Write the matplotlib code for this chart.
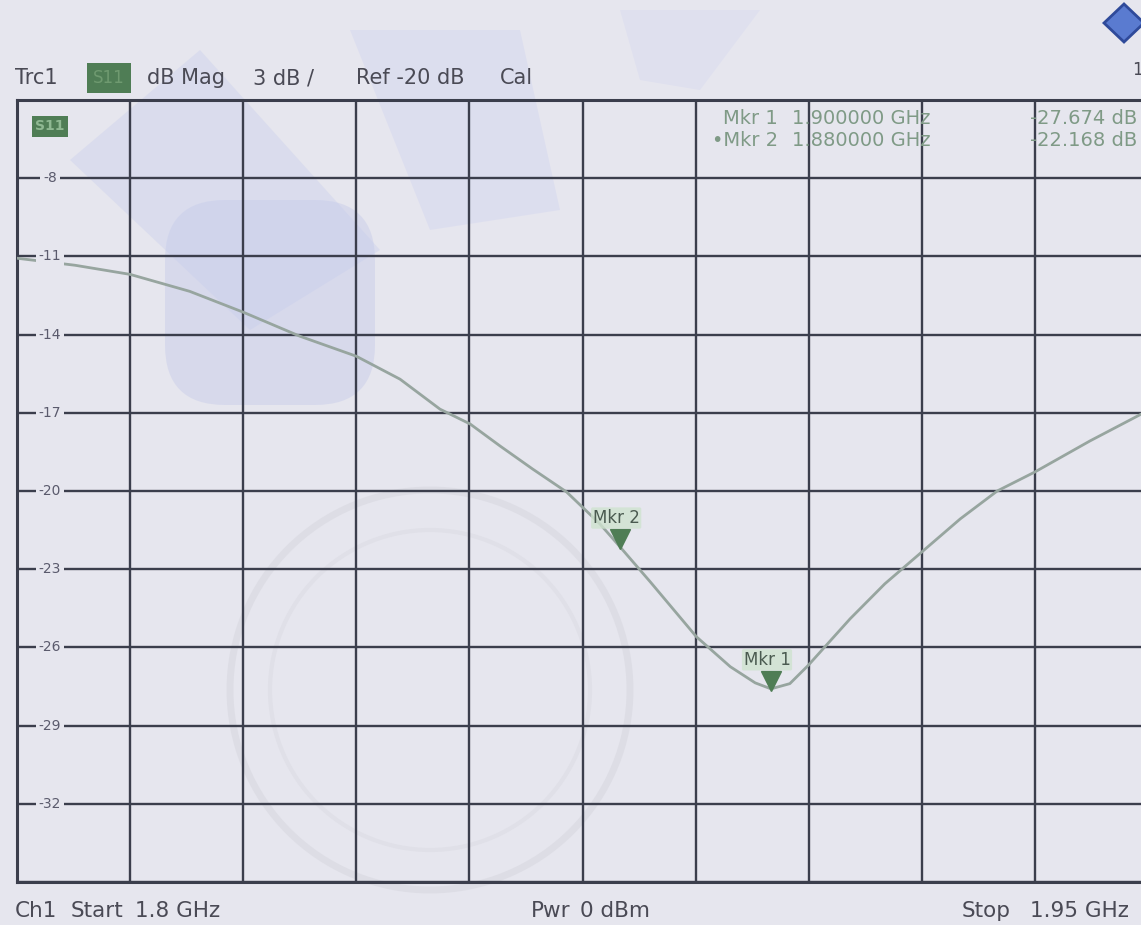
import matplotlib
matplotlib.use("Agg")
import matplotlib.pyplot as plt
import matplotlib.patches as mpatches
import matplotlib.transforms as mtransforms
import numpy as np

# ---------------- data ----------------
freq_ghz = [1.8000, 1.8077, 1.8150, 1.8229, 1.8300, 1.8375, 1.8450, 1.8508,
            1.8561, 1.8601, 1.8641, 1.8684, 1.8729, 1.8773, 1.8800, 1.8840,
            1.8901, 1.8946, 1.8979, 1.9000, 1.9025, 1.9049, 1.9105, 1.9151,
            1.9200, 1.9251, 1.9300, 1.9350, 1.9423, 1.9491, 1.9500]
s11_db = [-11.07, -11.34, -11.69, -12.34, -13.14, -14.06, -14.83, -15.71,
          -16.86, -17.43, -18.28, -19.16, -20.04, -21.26, -22.15, -23.49,
          -25.59, -26.74, -27.36, -27.59, -27.39, -26.70, -24.90, -23.56,
          -22.34, -21.07, -20.00, -19.27, -18.08, -17.05, -16.95]

marker_names = ["Mkr 1", "Mkr 2"]
marker_freq = [1.900000, 1.880000]
marker_db = [-27.59, -22.15]
readout_name = ["Mkr 1", "\u2022Mkr 2"]
readout_freq = ["1.900000 GHz", "1.880000 GHz"]
readout_val = ["-27.674 dB", "-22.168 dB"]

y_ticks = [-8, -11, -14, -17, -20, -23, -26, -29, -32]
y_tick_labels = ["-8", "-11", "-14", "-17", "-20", "-23", "-26", "-29", "-32"]
ref_level = -20
f_start, f_stop = 1.80, 1.95
y_bottom, y_top = -35, -5

header_parts = ["Trc1", "dB Mag", "3 dB /", "Ref -20 dB", "Cal"]
footer_parts = ["Ch1", "Start", "1.8 GHz", "Pwr", "0 dBm", "Stop", "1.95 GHz"]

# ---------------- style ----------------
plt.rcParams['font.family'] = ['DejaVu Sans']
BG = "#e6e6ee"
GRID = "#3b3e4c"
TXT = "#4a4a55"
TRACE = "#97a59f"
GREEN = "#4f7d55"
LGREEN = "#cfe3cf"

W, H = 1141, 925
fig = plt.figure(figsize=(W / 100, H / 100), dpi=100, facecolor=BG)

def fx(px):
    return px / W

def fy(py):
    return 1 - py / H

# watermark-like faint shapes (background decoration)
deco = fig.add_axes([0, 0, 1, 1], zorder=0)
deco.set_xlim(0, W)
deco.set_ylim(H, 0)
deco.axis("off")
deco.add_patch(mpatches.FancyBboxPatch((165, 200), 210, 205,
               boxstyle="round,pad=0,rounding_size=60",
               facecolor="#bcc3e8", edgecolor="none", alpha=0.35))
deco.add_patch(mpatches.Polygon([[70, 160], [200, 50], [380, 250], [250, 330]],
               closed=True, facecolor="#c4cbec", edgecolor="none", alpha=0.35))
deco.add_patch(mpatches.Polygon([[350, 30], [520, 30], [560, 210], [430, 230]],
               closed=True, facecolor="#c8cdee", edgecolor="none", alpha=0.3))
deco.add_patch(mpatches.Polygon([[620, 10], [760, 10], [700, 90], [640, 80]],
               closed=True, facecolor="#cfd3ef", edgecolor="none", alpha=0.3))
deco.add_patch(mpatches.Circle((430, 690), 200, facecolor="none",
               edgecolor="#d8d8e0", linewidth=5, alpha=0.6))
deco.add_patch(mpatches.Circle((430, 690), 160, facecolor="none",
               edgecolor="#dcdce4", linewidth=3, alpha=0.6))
# R&S style logo at top right
deco.add_patch(mpatches.Polygon([[1104, 23], [1124, 4], [1144, 23], [1124, 42]],
               closed=True, facecolor="#5a7bd0", edgecolor="#2f4a9a", linewidth=2))
deco.text(1137, 70, "1", fontsize=12, color=TXT, ha="center", va="center")

# ---------------- main axes ----------------
left_px, right_px, top_px, bot_px = 17, 1148, 100, 882
ax = fig.add_axes([fx(left_px), fy(bot_px), fx(right_px - left_px),
                   (bot_px - top_px) / H], zorder=1)
ax.set_facecolor("none")
ax.set_xlim(f_start, f_stop)
ax.set_ylim(y_bottom, y_top)
ax.set_xticks(np.linspace(f_start, f_stop, 11))
ax.set_yticks(np.linspace(y_bottom, y_top, 11))
ax.grid(True, color=GRID, linewidth=1.7)
ax.tick_params(length=0, labelbottom=False, labelleft=False)
for s in ax.spines.values():
    s.set_color(GRID)
    s.set_linewidth(2.2)

ax.plot(freq_ghz, s11_db, color=TRACE, linewidth=2.0, zorder=3)

# y labels placed inside the grid at left
lab_x = f_start + 0.015 * 33 / 113.1
for v, lab in zip(y_ticks, y_tick_labels):
    ax.text(lab_x, v, lab, fontsize=10, color="#5a5a6c", ha="center",
            va="center", zorder=4,
            bbox=dict(boxstyle="square,pad=0.2", facecolor=BG, edgecolor="none"))
# S11 label at top
ax.text(lab_x, -6.0, "S11", fontsize=10, color="#8fb892", ha="center",
        va="center", zorder=4, fontweight="bold",
        bbox=dict(boxstyle="square,pad=0.25", facecolor=GREEN, edgecolor="none"))

# reference level marker on right
ax.plot([f_stop], [ref_level], marker="<", markersize=10, color="#50525e",
        clip_on=False, zorder=5)

# markers
up = mtransforms.offset_copy(ax.transData, fig=fig, x=0, y=8, units="dots")
lab_tr = mtransforms.offset_copy(ax.transData, fig=fig, x=-4, y=29, units="dots")
for name, f, v in zip(marker_names, marker_freq, marker_db):
    ax.plot([f], [v], marker="v", markersize=15, color=GREEN, transform=up,
            zorder=6, markeredgecolor=GREEN)
    ax.text(f, v, name, transform=lab_tr, fontsize=12, color="#4a5a50",
            ha="center", va="center", zorder=6,
            bbox=dict(boxstyle="round,pad=0.1", facecolor=LGREEN,
                      edgecolor="none", alpha=0.8))

# marker readout (top right)
rd_kw = dict(fontsize=14, color="#7f9a86", va="center", ha="left", zorder=5)
for i in range(len(readout_name)):
    yy = fy(118 + 22 * i)
    fig.text(fx(778), yy, readout_name[i], **dict(rd_kw, ha="right"))
    fig.text(fx(792), yy, readout_freq[i], **rd_kw)
    fig.text(fx(1030), yy, readout_val[i], **rd_kw)

# header
hk = dict(fontsize=15, color=TXT, va="center", ha="left")
fig.text(fx(15), fy(78), header_parts[0], **hk)
fig.text(fx(109), fy(78), "S11", fontsize=12, color="#6f9a70", ha="center",
         va="center", bbox=dict(boxstyle="square,pad=0.35", facecolor=GREEN,
                                edgecolor="none"))
fig.text(fx(147), fy(78), header_parts[1], **hk)
fig.text(fx(253), fy(78), header_parts[2], **hk)
fig.text(fx(356), fy(78), header_parts[3], **hk)
fig.text(fx(500), fy(78), header_parts[4], **hk)

# footer
fk = dict(fontsize=15.5, color=TXT, va="center", ha="left")
fig.text(fx(15), fy(911), footer_parts[0], **fk)
fig.text(fx(71), fy(911), footer_parts[1], **fk)
fig.text(fx(135), fy(911), footer_parts[2], **fk)
fig.text(fx(531), fy(911), footer_parts[3], **fk)
fig.text(fx(580), fy(911), footer_parts[4], **fk)
fig.text(fx(962), fy(911), footer_parts[5], **fk)
fig.text(fx(1030), fy(911), footer_parts[6], **fk)

fig.savefig("out.png", dpi=100, facecolor=BG)
